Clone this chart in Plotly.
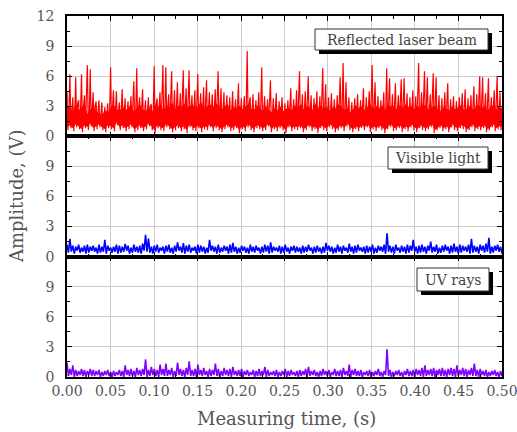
import numpy as np
import plotly.graph_objects as go
from plotly.subplots import make_subplots

# ---------------- data ----------------
series_names = ["Reflected laser beam", "Visible light", "UV rays"]
x_ticks = [0.00, 0.05, 0.10, 0.15, 0.20, 0.25, 0.30, 0.35, 0.40, 0.45, 0.50]
y_ticks_top = [0, 3, 6, 9, 12]
y_ticks_low = [0, 3, 6, 9]

red_peaks = [4.4, 6.2, 3.9, 5.9, 3.6, 6.2, 4.1, 7.1, 6.7, 4.4,
             3.5, 3.6, 3.4, 2.9, 3.3, 6.9, 4.6, 4.5, 3.4, 4.7,
             3.8, 3.5, 4.0, 5.5, 6.8, 3.9, 4.7, 3.6, 3.9, 3.2,
             7.0, 3.8, 4.4, 7.1, 6.9, 4.2, 6.5, 4.6, 5.4, 4.3,
             6.6, 4.8, 6.6, 4.1, 4.6, 6.2, 4.3, 4.9, 5.6, 4.4,
             4.2, 4.7, 6.5, 4.8, 4.4, 4.1, 3.9, 4.5, 3.7, 5.3,
             3.8, 4.0, 8.5, 3.9, 4.2, 3.6, 4.4, 6.9, 4.0, 3.7,
             5.6, 3.8, 4.3, 3.5, 3.9, 3.3, 3.6, 4.8, 3.7, 4.6,
             6.5, 4.2, 4.5, 6.0, 4.1, 3.8, 4.5, 4.0, 6.8, 5.2,
             3.9, 4.3, 3.7, 4.1, 5.9, 7.3, 5.4, 3.9, 3.4, 3.8,
             4.2, 3.6, 4.8, 3.9, 4.5, 7.1, 5.4, 4.0, 3.6, 4.4,
             6.8, 5.8, 4.2, 5.3, 4.1, 5.7, 5.8, 4.3, 3.9, 4.6,
             4.0, 7.3, 4.4, 6.5, 5.9, 4.2, 6.3, 5.9, 4.1, 3.8,
             4.4, 5.3, 3.7, 4.0, 3.5, 3.9, 4.3, 4.7, 3.8, 4.1,
             5.0, 4.2, 6.0, 5.9, 4.3, 5.8, 3.9, 4.6, 6.0, 4.4]
red_troughs = [0.6, 0.8, 0.5, 0.9, 0.7, 0.4, 0.8, 0.6, 1.0, 0.5,
               0.7, 0.9, 0.6, 0.4, 0.8, 0.7, 0.5, 1.1, 0.6, 0.8,
               0.5, 0.7, 0.9, 0.4, 0.6, 0.8, 0.5, 0.7, 1.0, 0.6,
               0.3, 0.8, 0.6, 0.5, 0.9, 0.7, 0.4, 0.6, 0.8, 0.5,
               0.7, 0.3, 0.9, 0.6, 0.5, 0.8, 0.4, 0.7, 0.6, 0.9,
               0.5, 0.8, 0.6, 0.4, 0.7, 0.9, 0.5, 0.6, 0.8, 0.3,
               0.7, 0.5, 0.9, 0.6, 0.4, 0.8, 0.7, 0.5, 0.6, 1.0,
               0.4, 0.7, 0.5, 0.8, 0.6, 0.3, 0.9, 0.5, 0.7, 0.6,
               0.8, 0.4, 0.6, 0.9, 0.5, 0.7, 0.3, 0.8, 0.6, 0.5,
               0.9, 0.7, 0.4, 0.6, 0.8, 0.5, 1.0, 0.6, 0.4, 0.7,
               0.5, 0.8, 0.6, 0.9, 0.4, 0.7, 0.5, 0.8, 0.6, 0.3,
               0.7, 0.9, 0.5, 0.6, 0.8, 0.4, 0.7, 0.5, 0.9, 0.6,
               0.4, 0.8, 0.6, 0.5, 0.7, 0.9, 0.3, 0.6, 0.8, 0.5,
               0.7, 0.4, 0.9, 0.6, 0.5, 0.8, 0.7, 0.4, 0.6, 0.9,
               0.5, 0.7, 0.6, 0.8, 0.4, 0.6, 0.9, 0.5, 0.7, 0.6]
red_mids = [2.8, 3.1, 2.4, 3.3, 2.6, 2.9, 3.2, 2.2, 2.7, 3.0,
            2.5, 2.3, 2.1, 2.6, 2.4, 2.9, 3.1, 2.7, 2.5, 3.0,
            2.6, 2.8, 3.2, 2.4, 2.9, 3.1, 2.7, 2.5, 3.0, 2.3,
            3.2, 2.8, 3.3, 2.6, 3.0, 2.9, 3.4, 2.7, 3.1, 2.8,
            3.3, 2.9, 3.0, 3.2, 2.7, 3.1, 3.4, 2.8, 3.0, 3.2,
            2.9, 3.3, 3.1, 2.7, 3.0, 3.2, 2.6, 2.9, 2.8, 3.1,
            2.7, 3.0, 3.2, 2.8, 2.6, 3.1, 2.9, 2.5, 3.0, 2.7,
            2.4, 2.8, 2.6, 3.0, 2.5, 2.7, 2.9, 2.6, 3.1, 2.8,
            3.2, 2.7, 3.0, 2.9, 2.6, 3.3, 2.8, 3.1, 2.7, 3.0,
            2.5, 2.9, 2.8, 3.2, 3.0, 2.6, 2.9, 2.4, 2.7, 3.1,
            2.8, 3.0, 2.6, 2.9, 3.2, 2.7, 3.0, 2.8, 3.1, 2.6,
            3.3, 2.9, 3.0, 2.7, 3.1, 2.8, 3.2, 2.9, 3.0, 2.7,
            3.1, 2.8, 3.2, 3.0, 2.6, 2.9, 3.1, 2.7, 2.5, 2.9,
            2.8, 2.6, 3.0, 2.7, 2.9, 3.1, 2.6, 2.8, 3.0, 2.7,
            2.9, 3.2, 2.8, 3.0, 2.6, 2.9, 3.1, 2.7, 3.0, 2.8]

blue_peaks = [1.2, 1.77, 1.1, 1.0, 1.2, 0.9, 1.1, 1.2, 1.0, 1.1,
              0.9, 1.2, 1.0, 1.67, 1.1, 0.9, 1.0, 1.2, 1.1, 1.0,
              1.27, 1.1, 0.9, 1.2, 1.0, 1.1, 1.3, 2.17, 1.8, 1.0,
              1.1, 1.2, 0.9, 1.0, 1.1, 1.2, 0.9, 1.1, 1.43, 1.0,
              1.35, 1.1, 1.2, 0.9, 1.0, 1.2, 1.1, 1.0, 0.9, 1.67,
              1.1, 1.0, 1.2, 0.9, 1.1, 1.0, 1.2, 1.37, 1.0, 0.9,
              1.1, 1.0, 0.9, 1.2, 1.0, 1.1, 0.9, 1.0, 1.2, 1.1,
              1.43, 1.0, 0.9, 1.1, 1.0, 1.2, 0.9, 1.0, 1.1, 1.0,
              0.9, 1.1, 1.0, 1.2, 0.9, 1.0, 1.1, 0.9, 1.0, 1.37,
              1.1, 1.0, 0.9, 1.2, 1.0, 1.1, 0.9, 1.3, 1.0, 1.1,
              1.2, 0.9, 1.0, 1.1, 1.0, 1.2, 0.9, 1.1, 1.0, 1.2,
              2.33, 1.1, 1.0, 1.2, 0.9, 1.1, 1.0, 1.2, 1.1, 1.67,
              1.0, 1.1, 1.2, 1.0, 1.1, 1.5, 1.0, 1.2, 0.9, 1.1,
              1.2, 1.0, 1.1, 1.3, 1.0, 1.2, 1.1, 1.0, 1.2, 1.77,
              1.1, 1.0, 1.2, 1.1, 1.3, 1.87, 1.0, 1.1, 1.2, 1.0]
blue_troughs = [0.4, 0.5, 0.3, 0.6, 0.4, 0.5, 0.3, 0.4, 0.6, 0.5,
                0.3, 0.4, 0.5, 0.3, 0.6, 0.4, 0.5, 0.3, 0.4, 0.5,
                0.6, 0.3, 0.4, 0.5, 0.4, 0.3, 0.6, 0.5, 0.4, 0.3,
                0.5, 0.4, 0.6, 0.3, 0.5, 0.4, 0.3, 0.5, 0.6, 0.4,
                0.3, 0.5, 0.4, 0.6, 0.3, 0.4, 0.5, 0.3, 0.4, 0.6,
                0.5, 0.3, 0.4, 0.5, 0.6, 0.3, 0.4, 0.5, 0.3, 0.4,
                0.6, 0.4, 0.3, 0.5, 0.4, 0.6, 0.3, 0.4, 0.5, 0.3,
                0.4, 0.6, 0.5, 0.3, 0.4, 0.5, 0.3, 0.6, 0.4, 0.5,
                0.3, 0.4, 0.5, 0.6, 0.3, 0.4, 0.5, 0.3, 0.4, 0.6,
                0.5, 0.3, 0.4, 0.5, 0.3, 0.6, 0.4, 0.5, 0.3, 0.4,
                0.6, 0.5, 0.3, 0.4, 0.5, 0.3, 0.4, 0.6, 0.5, 0.3,
                0.5, 0.4, 0.3, 0.6, 0.4, 0.5, 0.3, 0.4, 0.6, 0.5,
                0.3, 0.4, 0.5, 0.3, 0.6, 0.4, 0.5, 0.3, 0.4, 0.5,
                0.6, 0.3, 0.4, 0.5, 0.3, 0.4, 0.6, 0.5, 0.3, 0.4,
                0.5, 0.3, 0.6, 0.4, 0.5, 0.3, 0.4, 0.6, 0.5, 0.3]

uv_peaks = [1.43, 0.8, 1.17, 0.7, 0.6, 0.8, 0.7, 0.6, 0.8, 0.7,
            0.6, 0.7, 0.5, 0.6, 0.7, 0.5, 0.6, 0.5, 0.7, 0.6,
            1.17, 0.7, 0.8, 0.6, 0.9, 0.7, 0.8, 1.77, 0.7, 1.0,
            0.8, 0.7, 1.23, 0.8, 1.33, 0.7, 0.9, 0.6, 1.43, 0.8,
            0.7, 0.9, 1.57, 0.7, 0.8, 1.23, 0.7, 0.9, 0.6, 0.8,
            0.7, 1.33, 0.8, 0.6, 0.9, 0.7, 0.8, 1.0, 0.6, 0.7,
            0.8, 0.6, 0.7, 0.5, 0.7, 0.6, 0.8, 0.6, 1.0, 0.7,
            0.5, 0.6, 0.7, 0.5, 0.6, 0.8, 0.6, 0.7, 0.5, 0.6,
            0.7, 0.6, 0.8, 1.0, 0.6, 0.7, 0.5, 0.6, 0.8, 0.6,
            0.7, 0.5, 0.8, 0.6, 0.7, 0.9, 0.6, 1.23, 0.7, 0.8,
            0.6, 0.7, 0.5, 0.6, 0.7, 0.5, 0.6, 0.8, 0.5, 0.6,
            2.77, 0.7, 0.5, 0.6, 0.7, 0.5, 0.6, 0.8, 0.6, 0.7,
            0.8, 0.7, 0.9, 1.17, 0.7, 0.8, 0.9, 0.7, 0.8, 0.9,
            0.7, 0.8, 0.9, 0.8, 1.17, 0.7, 0.9, 0.8, 0.7, 0.9,
            1.33, 0.7, 0.8, 0.6, 0.7, 0.5, 0.6, 0.7, 0.5, 0.6]
uv_troughs = [0.1, 0.2, 0.0, 0.1, 0.2, 0.1, 0.0, 0.2, 0.1, 0.1,
              0.2, 0.0, 0.1, 0.2, 0.1, 0.0, 0.1, 0.2, 0.1, 0.0,
              0.2, 0.1, 0.1, 0.0, 0.2, 0.1, 0.2, 0.0, 0.1, 0.2,
              0.1, 0.0, 0.2, 0.1, 0.1, 0.2, 0.0, 0.1, 0.2, 0.1,
              0.0, 0.2, 0.1, 0.1, 0.0, 0.2, 0.1, 0.2, 0.0, 0.1,
              0.2, 0.1, 0.0, 0.1, 0.2, 0.1, 0.0, 0.2, 0.1, 0.1,
              0.0, 0.2, 0.1, 0.2, 0.0, 0.1, 0.1, 0.2, 0.0, 0.1,
              0.2, 0.1, 0.0, 0.1, 0.2, 0.0, 0.1, 0.2, 0.1, 0.0,
              0.1, 0.2, 0.0, 0.1, 0.2, 0.1, 0.0, 0.1, 0.2, 0.1,
              0.0, 0.2, 0.1, 0.1, 0.0, 0.2, 0.1, 0.0, 0.2, 0.1,
              0.1, 0.0, 0.2, 0.1, 0.0, 0.1, 0.2, 0.1, 0.0, 0.2,
              0.1, 0.0, 0.1, 0.2, 0.1, 0.0, 0.2, 0.1, 0.1, 0.0,
              0.2, 0.1, 0.0, 0.1, 0.2, 0.1, 0.0, 0.2, 0.1, 0.1,
              0.0, 0.2, 0.1, 0.0, 0.1, 0.2, 0.1, 0.0, 0.2, 0.1,
              0.1, 0.0, 0.2, 0.1, 0.0, 0.1, 0.2, 0.1, 0.0, 0.1]

colors = ["#ff0000", "#0000ff", "#8000ff"]

# ---------------- assemble sample sequences ----------------
red_y = [v for trio in zip(red_peaks, red_troughs, red_mids) for v in trio]
blue_y = [v for pair in zip(blue_peaks, blue_troughs) for v in pair]
uv_y = [v for pair in zip(uv_peaks, uv_troughs) for v in pair]
ys = [red_y, blue_y, uv_y]
widths = [1.2, 1.6, 1.6]

W, H = 517, 432
ML, MR, MT, MB = 67, 15, 16, 55
PW, PH = W - ML - MR, H - MT - MB

fig = make_subplots(rows=3, cols=1, shared_xaxes=True, vertical_spacing=0)

# dense body of the red signal (between its troughs and its mid levels)
xb = np.linspace(0, 0.5, len(red_mids))
fig.add_trace(go.Scatter(x=xb, y=[t + 0.3 for t in red_troughs], mode="lines",
                         line=dict(width=0, color=colors[0]), showlegend=False,
                         hoverinfo="skip"), row=1, col=1)
fig.add_trace(go.Scatter(x=xb, y=red_mids, mode="lines", fill="tonexty",
                         fillcolor=colors[0], line=dict(width=0, color=colors[0]),
                         showlegend=False, hoverinfo="skip"), row=1, col=1)

for i, (y, c, w) in enumerate(zip(ys, colors, widths)):
    x = np.linspace(0, 0.5, len(y))
    fig.add_trace(go.Scatter(x=x, y=y, mode="lines", line=dict(color=c, width=w),
                             showlegend=False, hoverinfo="skip"), row=i + 1, col=1)

FONT = "DejaVu Serif"
TXT = "#555555"
axis_common = dict(showline=True, linecolor="black", linewidth=1.5, mirror="allticks",
                   ticks="inside", ticklen=5, tickwidth=1, tickcolor="black",
                   showgrid=True, gridcolor="#cccccc", gridwidth=1, zeroline=False,
                   ticklabeloverflow="allow", automargin=False,
                   tickfont=dict(family=FONT, size=14, color=TXT))

for r in range(1, 4):
    fig.update_xaxes(range=[0, 0.50001], tickvals=x_ticks, tickformat=".2f",
                     minor=dict(dtick=0.025, tick0=0, ticks="inside", ticklen=3,
                                tickcolor="black", showgrid=False),
                     showticklabels=(r == 3), row=r, col=1, **axis_common)
    fig.update_yaxes(range=[0, 12], tickvals=(y_ticks_top if r == 1 else y_ticks_low),
                     minor=dict(dtick=1.5, tick0=0, ticks="inside", ticklen=3,
                                tickcolor="black", showgrid=False),
                     ticklabelstandoff=8, row=r, col=1, **axis_common)

def px2paper(px, py):
    return (px - ML) / PW, (H - MB - py) / PH

# legend boxes: (left, top, right, bottom) in pixels
boxes = [(315, 29, 488, 50), (388, 147, 488, 169), (417, 268, 489, 291)]
shapes = []
annotations = []
for (l, t, r_, b), name in zip(boxes, series_names):
    x0, y1 = px2paper(l + 4, t + 4)
    x1, y0 = px2paper(r_ + 4, b + 4)
    shapes.append(dict(type="rect", xref="paper", yref="paper", x0=x0, x1=x1, y0=y0, y1=y1,
                       fillcolor="black", line=dict(width=0)))
    x0, y1 = px2paper(l, t)
    x1, y0 = px2paper(r_, b)
    shapes.append(dict(type="rect", xref="paper", yref="paper", x0=x0, x1=x1, y0=y0, y1=y1,
                       fillcolor="white", line=dict(color="#333333", width=1)))
    cx, cy = px2paper((l + r_) / 2, (t + b) / 2)
    annotations.append(dict(xref="paper", yref="paper", x=cx, y=cy, text=name,
                            showarrow=False, xanchor="center", yanchor="middle",
                            font=dict(family=FONT, size=14, color="#444444")))

tx, ty = px2paper(ML + PW / 2 + 2, 418)
annotations.append(dict(xref="paper", yref="paper", x=tx, y=ty, text="Measuring time, (s)",
                        showarrow=False, xanchor="center", yanchor="middle",
                        font=dict(family=FONT, size=18, color=TXT)))
tx, ty = px2paper(16, 196)
annotations.append(dict(xref="paper", yref="paper", x=tx, y=ty, text="Amplitude, (V)",
                        showarrow=False, xanchor="center", yanchor="middle", textangle=-90,
                        font=dict(family=FONT, size=18, color=TXT)))

fig.update_layout(width=W, height=H, margin=dict(l=ML, r=MR, t=MT, b=MB, autoexpand=False),
                  plot_bgcolor="white", paper_bgcolor="white",
                  shapes=shapes, annotations=annotations)

fig.write_html("out.html")
